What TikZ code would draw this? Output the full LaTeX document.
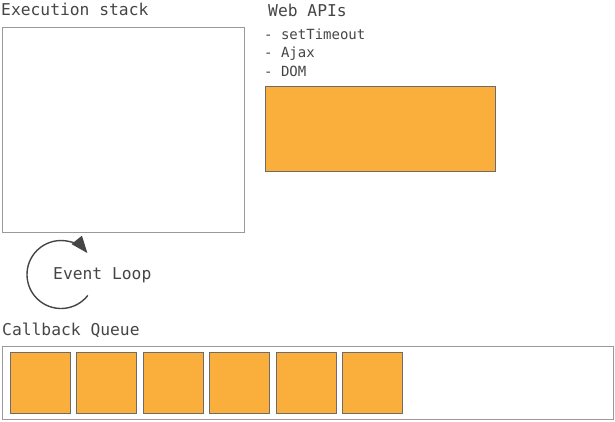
\documentclass[tikz,border=0pt]{standalone}
\usepackage{fontspec}
\setmonofont{DejaVu Sans Mono}
\usetikzlibrary{arrows.meta}
\definecolor{queueorange}{HTML}{FAAE3C}
\definecolor{framegray}{HTML}{9A9A9A}
\definecolor{inkgray}{HTML}{454545}
\tikzset{
	panel/.style={draw=framegray, line width=0.9pt, inner sep=0pt, anchor=north west},
	task/.style={draw=gray!85!black, fill=queueorange, line width=0.9pt, inner sep=0pt, anchor=north west},
	caption/.style={anchor=base west, inner sep=0pt, text=inkgray, font=\ttfamily\fontsize{16.3}{19}\selectfont},
	apiitem/.style={anchor=base west, inner sep=0pt, text=inkgray, font=\ttfamily\fontsize{14}{17}\selectfont}
}
\begin{document}
\begin{tikzpicture}[x=1pt, y=-1pt]
	\useasboundingbox (0,0) rectangle (615,421);
	% Execution stack
	\node[caption] (stacklabel) at (1,15) {Execution stack};
	\node[panel, minimum width=242pt, minimum height=204.5pt] (stack) at (1.5,27.2) {};
	% Web APIs
	\node[caption] (apilabel) at (268,16) {Web APIs};
	\foreach \y/\name/\txt in {39/api1/setTimeout, 57.5/api2/Ajax, 76/api3/DOM} {
		\node[apiitem] (\name) at (264,\y) {- \txt};
	}
	\node[task, minimum width=230pt, minimum height=85.5pt] (apibox) at (264.8,85.8) {};
	% Event loop
	\coordinate (loopc) at (61,274.5);
	\draw[inkgray, line width=1.4pt, -{Triangle[length=17pt, width=13pt]}]
		([shift={(38:34)}]loopc) arc[start angle=38, end angle=321, radius=34];
	\node[caption] (looplabel) at (53,279) {Event Loop};
	% Callback queue
	\node[caption] (queuelabel) at (2,335.5) {Callback Queue};
	\node[panel, minimum width=611.5pt, minimum height=72.5pt] (queue) at (1.5,346.2) {};
	\foreach \i in {0,...,5} {
		\node[task, minimum width=60pt, minimum height=61.5pt] (cb\i) at (9.8+66.5*\i,351.8) {};
	}
\end{tikzpicture}
\end{document}
